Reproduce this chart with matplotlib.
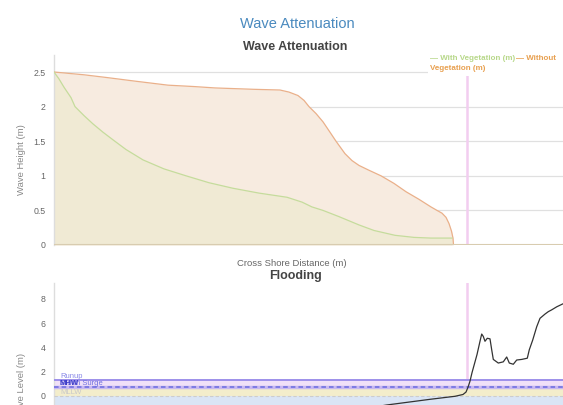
import matplotlib
matplotlib.use("Agg")
import matplotlib.pyplot as plt
from matplotlib.patches import Rectangle

plt.rcParams['font.family'] = ['Liberation Sans', 'DejaVu Sans']

# ---- Data ----
# Wave attenuation (cross-shore distance in m)
x_without = [0, 30, 53, 80, 114, 140, 161, 200, 226, 235, 244, 250, 255, 262, 269, 276, 282,
             291, 298, 305, 315, 327, 340, 352, 365, 377, 383, 388, 392, 395, 397.5, 399, 399.5]
h_without = [2.5, 2.46, 2.42, 2.37, 2.31, 2.29, 2.27, 2.25, 2.24, 2.21, 2.16, 2.09, 2.0, 1.9,
             1.78, 1.63, 1.5, 1.32, 1.22, 1.15, 1.08, 1.0, 0.89, 0.77, 0.66, 0.55, 0.5, 0.46,
             0.4, 0.31, 0.2, 0.1, 0.0]
x_with = [0, 5, 10, 17, 21, 30, 39, 49, 59, 72, 89, 110, 132, 155, 179, 205, 233, 248, 258,
          269, 285, 305, 320, 341, 360, 377, 398]
h_with = [2.5, 2.4, 2.28, 2.13, 2.0, 1.87, 1.75, 1.63, 1.52, 1.38, 1.23, 1.1, 1.0, 0.9, 0.82,
          0.75, 0.69, 0.62, 0.55, 0.5, 0.41, 0.29, 0.21, 0.14, 0.11, 0.1, 0.1]

marker_x = 413  # vertical pink marker

# Flooding profile
x_profile = [276, 332.7, 376, 401, 409, 412, 414, 416, 418, 421, 423, 426, 427.7, 429.3, 431,
             433.3, 436, 437.7, 439.3, 444.3, 449.3, 452.7, 455.3, 459.3, 462.7, 467.7, 473.3,
             475.3, 478.7, 482.7, 486, 491, 494.3, 497.7, 502.7, 509, 520]
z_profile = [-1.54, -0.77, -0.3, -0.05, 0.1, 0.3, 0.7, 1.2, 1.9, 2.8, 3.4, 4.5, 5.1, 4.9, 4.5,
             4.75, 4.7, 3.8, 3.0, 2.7, 2.8, 3.2, 2.7, 2.6, 2.95, 3.0, 3.1,
             3.8, 4.6, 5.7, 6.4, 6.75, 6.95, 7.1, 7.35, 7.6, 7.7]
runup = 1.3
storm_surge = 0.72
msl = 0.0

top_ticks = [0, 0.5, 1, 1.5, 2, 2.5]
top_tick_labels = ["0", "0.5", "1", "1.5", "2", "2.5"]
bot_ticks = [0, 2, 4, 6, 8]
bot_tick_labels = ["0", "2", "4", "6", "8"]

# ---- Figure ----
W, H = 563, 405
fig = plt.figure(figsize=(W / 100, H / 100), dpi=100)

def fx(px):
    return px / W

def fy(py):
    return 1 - py / H

GREEN = "#c5dc9c"
ORANGE = "#eab08a"
PINK = "#f2cdf0"
TICKC = "#666666"

# Top axes
ax1 = fig.add_axes([fx(54), fy(245), fx(563) - fx(54), (245 - 55) / H])
ax1.set_xlim(0, 509)
ax1.set_ylim(0, 2.746)
ax1.fill_between(x_without, h_without, 0, color="#f7ebe0", lw=0, zorder=1)
ax1.plot(x_without, h_without, color=ORANGE, lw=0.9, zorder=3)
ax1.fill_between(x_with, h_with, 0, color="#f0ead4", lw=0, zorder=2)
ax1.plot(x_with, h_with, color=GREEN, lw=0.9, zorder=3)
ax1.axvline(marker_x, color=PINK, lw=1.8, zorder=2)
ax1.set_yticks(top_ticks)
ax1.set_yticklabels(top_tick_labels)
ax1.set_xticks([])
ax1.grid(axis="y", color="#e0e0e0", lw=0.9, zorder=0)
ax1.set_axisbelow(True)
ax1.axhline(0, color="#d8ccb0", lw=1.5, zorder=4)
ax1.tick_params(axis="y", length=0, pad=6, labelsize=6.3, labelcolor=TICKC)
for s in ["top", "right", "bottom"]:
    ax1.spines[s].set_visible(False)
ax1.spines["left"].set_color("#dddddd")
ax1.spines["left"].set_linewidth(1.0)

# Legend box (white background)
ax1.add_patch(Rectangle((fx(428), fy(76)), fx(563) - fx(428), (76 - 52) / H,
                        transform=fig.transFigure, facecolor="white", edgecolor="none",
                        zorder=10, clip_on=False))

# Bottom axes
ax2 = fig.add_axes([fx(54), 0, fx(563) - fx(54), (405 - 283) / H])
ax2.set_xlim(0, 509)
ax2.set_ylim(-0.77, 9.32)
ax2.axvline(marker_x, color=PINK, lw=1.8, zorder=1)
ax2.axhspan(-0.77, msl, color="#dae5f5", lw=0, zorder=2)
ax2.axhspan(msl, storm_surge - 0.05, color="#f3edcb", lw=0, zorder=2)
ax2.axhspan(storm_surge, runup, color="#f0e0f8", lw=0, zorder=2)
ax2.axhline(msl, color="#cccccc", lw=0.8, ls=(0, (3, 2)), zorder=3)
ax2.axhline(storm_surge, color="#c8b8f0", lw=2.5, zorder=3)
ax2.axhline(storm_surge, color="#6a6ae0", lw=1.1, ls=(0, (3, 2)), zorder=3)
ax2.axhline(runup, color="#9d8fea", lw=1.4, zorder=3)
ax2.plot(x_profile, z_profile, color="#333333", lw=0.9, zorder=5)
ax2.text(6, 1.55, "Runup", color="#8888e8", fontsize=5.5, va="center", zorder=6)
ax2.text(6, 1.02, "Storm Surge", color="#7070e0", fontsize=5.5, va="center", zorder=6)
ax2.text(6, 0.98, "MHW", color="#3a3ac8", fontsize=5.5, va="center", fontweight="bold", zorder=6)
ax2.text(6, 0.3, "MLLW", color="#c8c8c8", fontsize=5.5, va="center", zorder=6)
ax2.set_yticks(bot_ticks)
ax2.set_yticklabels(bot_tick_labels)
ax2.set_xticks([])
ax2.tick_params(axis="y", length=0, pad=6, labelsize=6.3, labelcolor=TICKC)
for s in ["top", "right", "bottom"]:
    ax2.spines[s].set_visible(False)
ax2.spines["left"].set_color("#dddddd")
ax2.spines["left"].set_linewidth(1.0)

# Texts
fig.text(fx(297), fy(24), "Wave Attenuation", color="#4a8abf", fontsize=10.5,
         ha="center", va="center")
fig.text(fx(295), fy(47), "Wave Attenuation", color="#444444", fontsize=9,
         fontweight="bold", ha="center", va="center")
fig.text(fx(292), fy(264), "Cross Shore Distance (m)", color="#666666", fontsize=6.8,
         ha="center", va="center")
fig.text(fx(295), fy(276), "Flooding", color="#444444", fontsize=9,
         fontweight="bold", ha="center", va="center")
fig.text(fx(22), fy(160), "Wave Height (m)", color="#888888", fontsize=6.8,
         rotation=90, ha="center", va="center")
fig.text(fx(22), fy(353), "Wave Level (m)", color="#888888", fontsize=6.8,
         rotation=90, ha="center", va="top")

# Legend texts
fig.text(fx(430), fy(59), "— With Vegetation (m)", color="#b8d88a", fontsize=5.8,
         fontweight="bold", ha="left", va="center", zorder=11)
fig.text(fx(516), fy(59), "— Without", color="#e8a050", fontsize=5.8,
         fontweight="bold", ha="left", va="center", zorder=11)
fig.text(fx(430), fy(69), "Vegetation (m)", color="#e8a050", fontsize=5.8,
         fontweight="bold", ha="left", va="center", zorder=11)

fig.savefig("out.png", dpi=100)
